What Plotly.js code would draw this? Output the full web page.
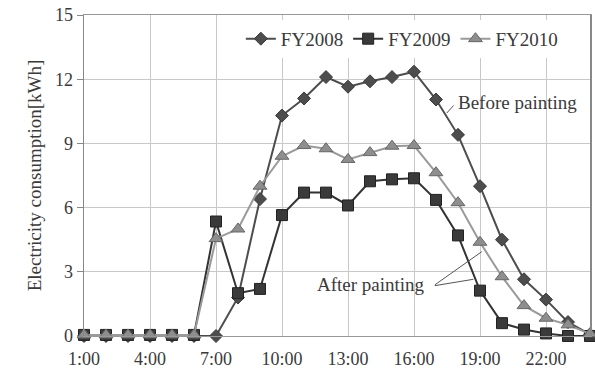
<!DOCTYPE html>
<html>
<head>
<meta charset="utf-8">
<script src="https://cdn.plot.ly/plotly-3.0.1.min.js"></script>
<style>html,body{margin:0;padding:0;background:#fff;}#chart{width:595px;height:372px;}</style>
</head>
<body>
<div id="chart"></div>
<script>
// Hours of day (1:00 .. 24:00)
const hours = [1,2,3,4,5,6,7,8,9,10,11,12,13,14,15,16,17,18,19,20,21,22,23,24];
const tickVals = [1,4,7,10,13,16,19,22];
const tickLabels = ["1:00","4:00","7:00","10:00","13:00","16:00","19:00","22:00"];
const yTicks = [0,3,6,9,12,15];

const fy2008 = [0,0,0,0,0,0,0,1.8,6.4,10.3,11.1,12.1,11.65,11.9,12.1,12.35,11.05,9.4,7.0,4.5,2.65,1.7,0.65,0.08];
const fy2009 = [0.05,0.05,0.05,0.05,0.05,0.05,5.35,2.0,2.2,5.65,6.7,6.7,6.1,7.23,7.32,7.37,6.36,4.7,2.12,0.6,0.3,0.12,0.0,0.0];
const fy2010 = [0.05,0.05,0.05,0.05,0.05,0.05,4.55,5.0,7.0,8.4,8.9,8.75,8.25,8.57,8.87,8.9,7.63,6.23,4.38,2.77,1.42,0.83,0.52,0.1];

const seriesNames = ["FY2008","FY2009","FY2010"];
const fontFam = '"Liberation Serif"';

const traces = [
  {x: hours, y: fy2008, name: seriesNames[0], type: 'scatter', mode: 'lines+markers', cliponaxis: false,
   line: {color: '#4d4d4d', width: 2}, marker: {symbol: 'diamond', size: 10, color: '#4d4d4d', line: {color: '#3a3a3a', width: 1}}},
  {x: hours, y: fy2009, name: seriesNames[1], type: 'scatter', mode: 'lines+markers', cliponaxis: false,
   line: {color: '#333333', width: 2}, marker: {symbol: 'square', size: 11, color: '#3a3a3a', line: {color: '#222', width: 1}}},
  {x: hours, y: fy2010, name: seriesNames[2], type: 'scatter', mode: 'lines+markers', cliponaxis: false,
   line: {color: '#9a9a9a', width: 2}, marker: {symbol: 'triangle-up', size: 12, color: '#8e8e8e', line: {color: '#666', width: 1}}}
];

const layout = {
  width: 595, height: 372,
  margin: {l: 84, r: 5, t: 15, b: 36},
  paper_bgcolor: '#fff', plot_bgcolor: '#fff',
  font: {family: fontFam, size: 18, color: '#3a3a3a'},
  showlegend: true,
  legend: {orientation: 'h', x: 0.31, y: 0.985, xanchor: 'left', yanchor: 'top',
           font: {family: fontFam, size: 19, color: '#3a3a3a'}, itemwidth: 30, itemgap: 12,
           bgcolor: 'rgba(255,255,255,1)', traceorder: 'normal'},
  xaxis: {range: [1, 24], tickvals: tickVals, ticktext: tickLabels, showgrid: true, gridcolor: '#c8c8c8', gridwidth: 1,
          showline: true, linecolor: '#999', linewidth: 1, mirror: true, zeroline: false, ticks: '', ticklabelstandoff: 6,
          tickfont: {family: fontFam, size: 18, color: '#3a3a3a'}},
  yaxis: {range: [0, 15], tickvals: yTicks, showgrid: true, gridcolor: '#c8c8c8', gridwidth: 1,
          showline: true, linecolor: '#888', linewidth: 1.5, mirror: true, zeroline: false,
          ticks: 'outside', ticklen: 6, tickcolor: '#888',
          tickfont: {family: fontFam, size: 18, color: '#3a3a3a'},
          title: {text: 'Electricity consumption[kWh]', font: {family: fontFam, size: 19, color: '#3a3a3a'}, standoff: 8}},
  annotations: [
    {x: 17.91, y: 10.93, xref: 'x', yref: 'y', text: 'Before painting', showarrow: false, xanchor: 'left', yanchor: 'middle',
     font: {family: fontFam, size: 19, color: '#3a3a3a'}},
    {x: 17.49, y: 10.42, ax: 17.86, ay: 10.84, xref: 'x', yref: 'y', axref: 'x', ayref: 'y', text: '', showarrow: true, arrowhead: 0, arrowwidth: 1, arrowcolor: '#555'},
    {x: 16.59, y: 2.43, xref: 'x', yref: 'y', text: 'After painting', showarrow: false, xanchor: 'right', yanchor: 'middle',
     font: {family: fontFam, size: 19, color: '#3a3a3a'}},
    {x: 19.08, y: 3.94, ax: 16.88, ay: 2.34, xref: 'x', yref: 'y', axref: 'x', ayref: 'y', text: '', showarrow: true, arrowhead: 0, arrowwidth: 1, arrowcolor: '#555'},
    {x: 18.70, y: 2.65, ax: 16.88, ay: 2.34, xref: 'x', yref: 'y', axref: 'x', ayref: 'y', text: '', showarrow: true, arrowhead: 0, arrowwidth: 1, arrowcolor: '#555'}
  ]
};

Plotly.newPlot('chart', traces, layout, {displayModeBar: false, staticPlot: true});
</script>
</body>
</html>
